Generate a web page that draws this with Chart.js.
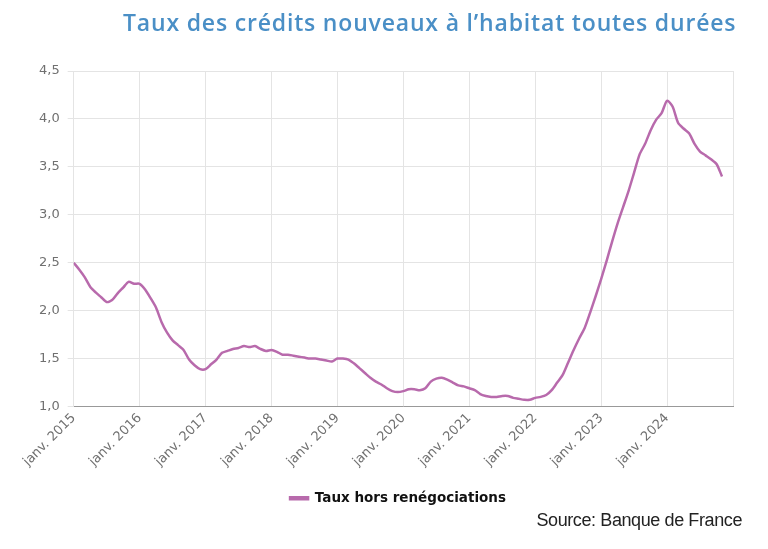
<!DOCTYPE html>
<html lang="fr">
<head>
<meta charset="utf-8">
<script src="https://cdn.jsdelivr.net/npm/chart.js@4.4.1/dist/chart.umd.min.js"></script>
<style>
  body { margin: 0; background: #fff; }
  #wrap { position: relative; width: 768px; height: 549px; overflow: hidden; }
  #titre {
    position: absolute; left: 123px; top: 6px;
    font-family: "Open Sans", sans-serif; font-weight: 600; font-size: 23px;
    letter-spacing: 0.82px; color: #4a8fc6; white-space: nowrap;
  }
  #source {
    position: absolute; right: 26px; top: 510px;
    font-family: "Liberation Sans", Arial, sans-serif; font-size: 18px;
    letter-spacing: -0.4px; color: #222; white-space: nowrap;
  }
  canvas { position: absolute; left: 0; top: 0; }
</style>
</head>
<body>
<div id="wrap">
  <canvas id="graph" width="768" height="549"></canvas>
  <div id="titre">Taux des crédits nouveaux à l’habitat toutes durées</div>
  <div id="source">Source: Banque de France</div>
</div>
<script>
// étiquettes de l'axe des x (un repère par mois de janvier)
const xTickLabels = ['janv. 2015', 'janv. 2016', 'janv. 2017', 'janv. 2018', 'janv. 2019',
  'janv. 2020', 'janv. 2021', 'janv. 2022', 'janv. 2023', 'janv. 2024'];
const yTicks = [1.0, 1.5, 2.0, 2.5, 3.0, 3.5, 4.0, 4.5];
const serieLabel = 'Taux hors renégociations';

// valeurs mensuelles, janv. 2015 -> nov. 2024
const tauxHorsReneg = [
  2.50, 2.43, 2.35, 2.25, 2.19, 2.14, 2.09, 2.11, 2.18, 2.24, 2.30, 2.28, // 2015
  2.28, 2.22, 2.13, 2.03, 1.88, 1.77, 1.69, 1.64, 1.59, 1.49, 1.43, 1.39, // 2016
  1.39, 1.44, 1.49, 1.56, 1.58, 1.60, 1.61, 1.63, 1.62, 1.63, 1.60, 1.58, // 2017
  1.59, 1.57, 1.54, 1.54, 1.53, 1.52, 1.51, 1.50, 1.50, 1.49, 1.48, 1.47, // 2018
  1.50, 1.50, 1.49, 1.45, 1.40, 1.35, 1.30, 1.26, 1.23, 1.19, 1.16, 1.15, // 2019
  1.16, 1.18, 1.18, 1.17, 1.19, 1.26, 1.29, 1.30, 1.28, 1.25, 1.22, 1.21, // 2020
  1.19, 1.17, 1.13, 1.11, 1.10, 1.10, 1.11, 1.11, 1.09, 1.08, 1.07, 1.07, // 2021
  1.09, 1.10, 1.12, 1.17, 1.25, 1.33, 1.46, 1.59, 1.71, 1.82, 1.98, 2.15, // 2022
  2.33, 2.52, 2.72, 2.91, 3.08, 3.25, 3.44, 3.63, 3.74, 3.88, 3.99, 4.06, // 2023
  4.19, 4.13, 3.96, 3.90, 3.85, 3.74, 3.66, 3.62, 3.58, 3.53, 3.40        // 2024
];

const points = tauxHorsReneg.map((v, i) => ({ x: i, y: v }));

// décale la légende pour la centrer sous la zone du graphique
const decaleLegende = {
  id: 'decaleLegende',
  afterLayout(chart) {
    const dx = 16;
    chart.legend.left += dx;
    chart.legend.right += dx;
  }
};

new Chart(document.getElementById('graph'), {
  type: 'line',
  data: {
    datasets: [{
      label: serieLabel,
      data: points,
      borderColor: '#b86aac',
      backgroundColor: '#b86aac',
      borderWidth: 2.5,
      pointRadius: 0,
      tension: 0.25,
      fill: false
    }]
  },
  options: {
    responsive: false,
    animation: false,
    layout: { padding: { left: 31, right: 35, top: 71, bottom: 34 } },
    scales: {
      x: {
        type: 'linear',
        min: 0,
        max: 120,
        afterBuildTicks: axis => {
          axis.ticks = [];
          for (let i = 0; i <= 120; i += 12) axis.ticks.push({ value: i });
        },
        ticks: {
          maxRotation: 45,
          minRotation: 45,
          autoSkip: false,
          padding: 4,
          color: '#707070',
          font: { family: 'DejaVu Sans', size: 13 },
          callback: v => xTickLabels[v / 12] || ''
        },
        grid: { color: '#e4e4e4', drawTicks: false },
        border: { color: '#999' }
      },
      y: {
        min: 1,
        max: 4.5,
        afterBuildTicks: axis => { axis.ticks = yTicks.map(v => ({ value: v })); },
        ticks: {
          color: '#707070',
          padding: 8,
          font: { family: 'DejaVu Sans', size: 13 },
          callback: v => v.toFixed(1).replace('.', ',')
        },
        grid: { color: '#e4e4e4', tickLength: 6 },
        border: { color: '#e4e4e4' }
      }
    },
    plugins: {
      legend: {
        position: 'bottom',
        labels: {
          boxWidth: 18,
          boxHeight: 2,
          padding: 18,
          color: '#111',
          font: { family: 'DejaVu Sans', size: 13.5, weight: 'bold' }
        }
      },
      tooltip: { enabled: false }
    }
  },
  plugins: [decaleLegende]
});
</script>
</body>
</html>
